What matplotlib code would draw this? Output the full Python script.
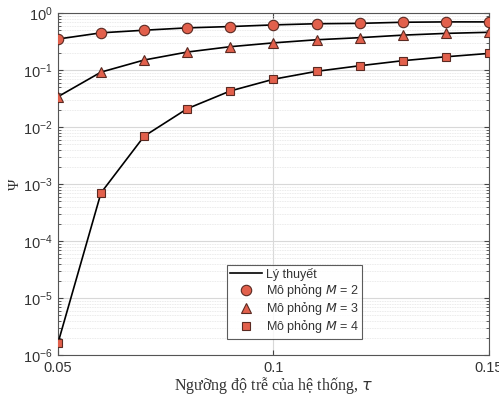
import matplotlib
matplotlib.use("Agg")
import matplotlib.pyplot as plt
from matplotlib.ticker import LogLocator, NullFormatter, FixedLocator

tau = [0.05, 0.06, 0.07, 0.08, 0.09, 0.10, 0.11, 0.12, 0.13, 0.14, 0.15]
psi_m2 = [0.35, 0.45, 0.50, 0.55, 0.58, 0.62, 0.65, 0.66, 0.69, 0.70, 0.70]
psi_m3 = [0.034, 0.092, 0.15, 0.207, 0.257, 0.30, 0.34, 0.37, 0.41, 0.44, 0.46]
psi_m4 = [1.6e-6, 7e-4, 6.9e-3, 0.021, 0.043, 0.069, 0.095, 0.119, 0.146, 0.171, 0.196]

xticks = [0.05, 0.1, 0.15]
xtick_labels = ["0.05", "0.1", "0.15"]

plt.rcParams['font.family'] = ['Liberation Sans', 'DejaVu Sans']

fig = plt.figure(figsize=(4.99, 3.96), dpi=100)
ax = fig.add_axes([0.116, 0.1035, 0.864, 0.8635])

fc = '#E2604C'
ec = '#5a2a22'

ax.plot(tau, psi_m2, color='black', lw=1.2, zorder=3, label='Lý thuyết')
ax.plot(tau, psi_m3, color='black', lw=1.2, zorder=3)
ax.plot(tau, psi_m4, color='black', lw=1.2, zorder=3)
ax.plot(tau, psi_m2, 'o', ms=7.5, mfc=fc, mec=ec, mew=0.8, ls='none', zorder=4, label='Mô phỏng $M$ = 2')
ax.plot(tau, psi_m3, '^', ms=7.5, mfc=fc, mec=ec, mew=0.8, ls='none', zorder=4, label='Mô phỏng $M$ = 3')
ax.plot(tau, psi_m4, 's', ms=5.5, mfc=fc, mec=ec, mew=0.8, ls='none', zorder=4, label='Mô phỏng $M$ = 4')

ax.set_yscale('log')
ax.set_xlim(0.05, 0.15)
ax.set_ylim(1e-6, 1)
ax.xaxis.set_major_locator(FixedLocator(xticks))
ax.set_xticklabels(xtick_labels)
ax.yaxis.set_major_locator(LogLocator(base=10, numticks=10))
ax.yaxis.set_minor_locator(LogLocator(base=10, subs=range(2, 10), numticks=20))
ax.yaxis.set_minor_formatter(NullFormatter())

ax.grid(True, which='major', color='#d8d8d8', lw=0.8)
ax.grid(True, which='minor', axis='y', color='#e4e4e4', lw=0.6, ls=(0, (1, 1)))
ax.set_axisbelow(True)

for s in ax.spines.values():
    s.set_color('#555555')
    s.set_linewidth(0.8)
ax.tick_params(axis='both', which='both', direction='in', colors='#444444', labelsize=10.5)
ax.tick_params(axis='both', labelcolor='#333333')
ax.tick_params(which='both', right=True, top=True)
ax.tick_params(axis='x', pad=4)

ax.set_ylabel('Ψ', family='Liberation Serif', fontsize=11, color='#333333', labelpad=1)
ax.set_xlabel('Ngưỡng độ trễ của hệ thống, $\\tau$', family='Liberation Serif', fontsize=11.5, color='#333333', labelpad=0)

leg = ax.legend(loc='lower right', bbox_to_anchor=(0.705, 0.048), fontsize=9, frameon=True,
                fancybox=False, edgecolor='#333333', handlelength=2.6, borderpad=0.25,
                labelspacing=0.1, handletextpad=0.3, borderaxespad=0)
leg.get_frame().set_linewidth(0.8)
for t in leg.get_texts():
    t.set_color('#333333')

fig.savefig('out.png', dpi=100)
